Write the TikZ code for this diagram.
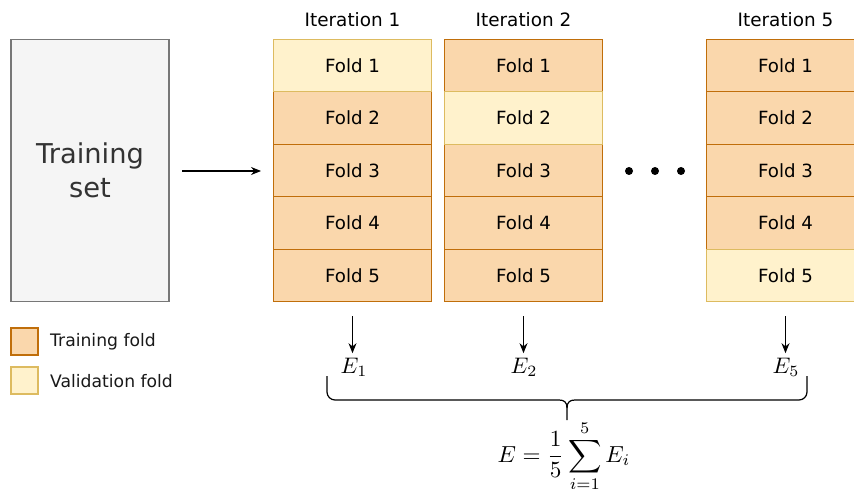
\documentclass[tikz,border=0pt]{standalone}
\usepackage{fontspec}
\setmainfont{DejaVu Sans}
\usetikzlibrary{arrows.meta}
\definecolor{trainfill}{HTML}{FAD7AC}
\definecolor{trainline}{HTML}{C06E0A}
\definecolor{valfill}{HTML}{FFF2CC}
\definecolor{valline}{HTML}{DDBB60}
\definecolor{setfill}{HTML}{F5F5F5}
\definecolor{setline}{HTML}{777777}
\definecolor{settext}{HTML}{333333}
\tikzset{
  foldbase/.style={draw, line width=1.2pt, minimum width=157.5pt, minimum height=52.5pt,
    inner sep=0pt, font=\fontsize{18.2}{21}\selectfont},
  trainfold/.style={foldbase, fill=trainfill, draw=trainline},
  valfold/.style={foldbase, fill=valfill, draw=valline},
  itertitle/.style={font=\fontsize{18.4}{21}\selectfont, inner sep=0pt},
  legendbox/.style={draw, line width=1.2pt, minimum width=27pt, minimum height=27pt, inner sep=0pt},
  legendtext/.style={font=\fontsize{17.2}{20}\selectfont, anchor=west, inner sep=0pt, text=black!90},
  arr/.style={-{Stealth[length=10pt,width=8pt]}, line width=1.1pt},
  errlabel/.style={font=\normalsize, scale=2.25, inner sep=0pt},
  dotmark/.style={circle, fill=black, minimum size=8pt, inner sep=0pt}
}
\begin{document}
\begin{tikzpicture}[x=1pt,y=-1pt]
\useasboundingbox (0,0) rectangle (854,489);
\clip (0,0) rectangle (854,489);

% the whole training set
\node[draw=setline, fill=setfill, line width=1.2pt, minimum width=158pt, minimum height=262.5pt,
  inner sep=0pt, align=center, text=settext, font=\fontsize{27.3}{34}\selectfont]
  (set) at (90,170.5) {Training\\set};

% one column of folds per iteration
\foreach \c/\x/\v in {1/352.5/1, 2/523.5/2, 5/785.5/5}{
  \node[itertitle] (t\c) at (\x,20) {Iteration \c};
  \foreach \f in {1,...,5}{
    \ifnum\f=\v
      \node[valfold] (c\c f\f) at (\x,{39.2+52.5*(\f-0.5)}) {Fold \f};
    \else
      \node[trainfold] (c\c f\f) at (\x,{39.2+52.5*(\f-0.5)}) {Fold \f};
    \fi
  }
}
% folds of the validation set drawn last so their borders stay on top
\node[valfold] at (c1f1) {Fold 1};
\node[valfold] at (c2f2) {Fold 2};
\node[valfold] at (c5f5) {Fold 5};

% input arrow
\coordinate (inA) at (182,171);
\coordinate (inB) at (261,171);
\draw[arr] (inA) -- (inB);

% ellipsis between the columns
\node[dotmark] (d1) at (629,171) {};
\node[dotmark] (d2) at (655,171) {};
\node[dotmark] (d3) at (681,171) {};

% errors of the iterations
\node[errlabel] (e1) at (354,367) {$E_1$};
\node[errlabel] (e2) at (524,367) {$E_2$};
\node[errlabel] (e5) at (786,367) {$E_5$};
\foreach \c in {1,2,5}{
  \draw[arr, shorten <=14pt, shorten >=4pt] (c\c f5.south) -- (c\c f5.south |- e\c.north);
}

% brace gathering the errors
\coordinate (bl) at (327,376);
\coordinate (br) at (807,376);
\coordinate (btip) at (567,420);
\draw[line width=1.2pt, line join=round]
  (bl) -- (327,392) arc[start angle=180, end angle=90, radius=8] -- (559,400)
  .. controls (564,400) and (567,402) .. (567,408) -- (btip);
\draw[line width=1.2pt, line join=round]
  (br) -- (807,392) arc[start angle=0, end angle=90, radius=8] -- (575,400)
  .. controls (570,400) and (567,402) .. (567,408);

% mean error
\node[errlabel, scale=1.03] (emean) at (564,456) {$\displaystyle E=\frac{1}{5}\sum_{i=1}^{5}E_i$};

% legend
\node[legendbox, fill=trainfill, draw=trainline] (lt) at (24.5,341.5) {};
\node[legendbox, fill=valfill, draw=valline] (lv) at (24.5,380.5) {};
\node[legendtext] (ltt) at (50,342) {Training fold};
\node[legendtext] (lvt) at (50,381) {Validation fold};
\end{tikzpicture}
\end{document}
